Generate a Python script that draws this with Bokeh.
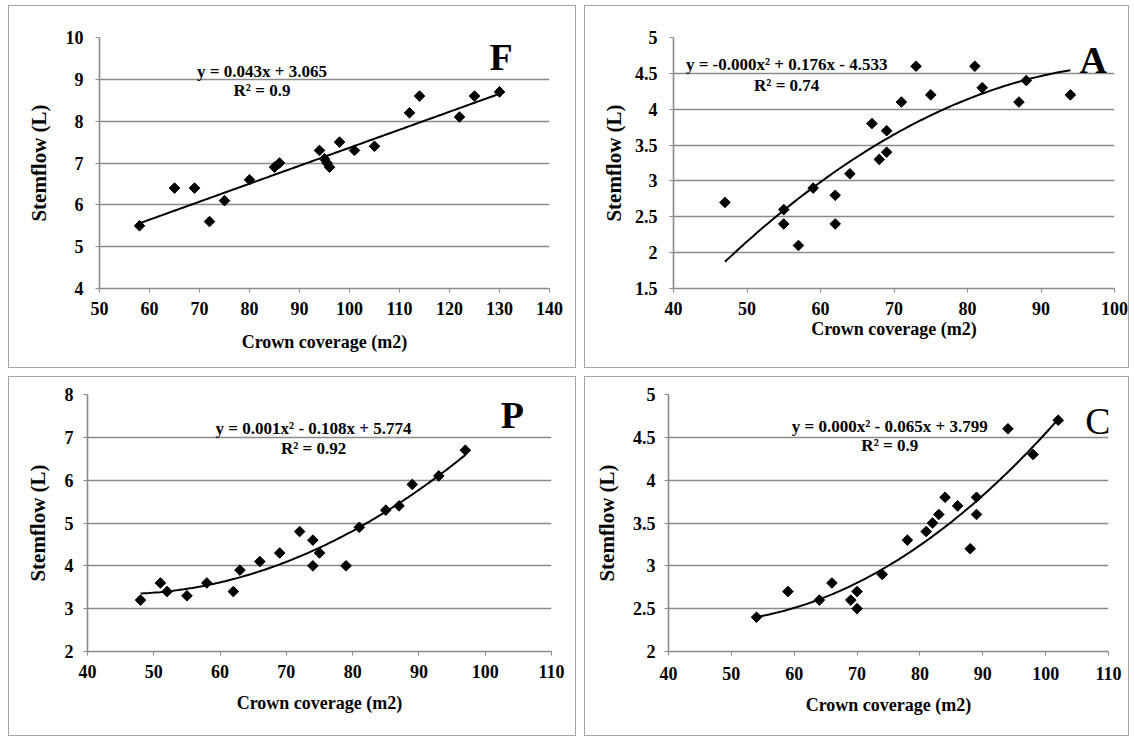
import numpy as np
from bokeh.plotting import figure
from bokeh.models import Label, NumeralTickFormatter, FixedTicker, Range1d
from bokeh.layouts import row, column
from bokeh.embed import file_html
from bokeh.resources import INLINE

# ---------------- data ----------------
f_x = [58, 65, 69, 72, 75, 80, 85, 86, 94, 95, 95.5, 96, 98, 101, 105, 112, 114, 122, 125, 130]
f_y = [5.5, 6.4, 6.4, 5.6, 6.1, 6.6, 6.9, 7.0, 7.3, 7.1, 7.0, 6.9, 7.5, 7.3, 7.4, 8.2, 8.6, 8.1, 8.6, 8.7]

a_x = [47, 55, 55, 57, 59, 62, 62, 64, 67, 68, 69, 69, 71, 73, 75, 81, 82, 87, 88, 94]
a_y = [2.7, 2.6, 2.4, 2.1, 2.9, 2.8, 2.4, 3.1, 3.8, 3.3, 3.7, 3.4, 4.1, 4.6, 4.2, 4.6, 4.3, 4.1, 4.4, 4.2]

p_x = [48, 51, 52, 55, 58, 62, 63, 66, 69, 72, 74, 74, 75, 79, 81, 85, 87, 89, 93, 97]
p_y = [3.2, 3.6, 3.4, 3.3, 3.6, 3.4, 3.9, 4.1, 4.3, 4.8, 4.6, 4.0, 4.3, 4.0, 4.9, 5.3, 5.4, 5.9, 6.1, 6.7]

c_x = [54, 59, 64, 66, 69, 70, 70, 74, 78, 81, 82, 83, 84, 86, 88, 89, 89, 94, 98, 102]
c_y = [2.4, 2.7, 2.6, 2.8, 2.6, 2.7, 2.5, 2.9, 3.3, 3.4, 3.5, 3.6, 3.8, 3.7, 3.2, 3.6, 3.8, 4.6, 4.3, 4.7]

# trend-line coefficients as printed/read on the chart (highest power first)
f_coef = [0.043, 3.065]
a_coef = [-0.000845, 0.176, -4.533]
p_coef = [0.0012, -0.108, 5.774]
c_coef = [0.000725, -0.065, 3.799]

f_eq = ["y = 0.043x + 3.065", "R² = 0.9"]
a_eq = ["y = -0.000x² + 0.176x - 4.533", "R² = 0.74"]
p_eq = ["y = 0.001x² - 0.108x + 5.774", "R² = 0.92"]
c_eq = ["y = 0.000x² - 0.065x + 3.799", "R² = 0.9"]

f_xticks = [50, 60, 70, 80, 90, 100, 110, 120, 130, 140]
f_yticks = [4, 5, 6, 7, 8, 9, 10]
a_xticks = [40, 50, 60, 70, 80, 90, 100]
a_yticks = [1.5, 2, 2.5, 3, 3.5, 4, 4.5, 5]
p_xticks = [40, 50, 60, 70, 80, 90, 100, 110]
p_yticks = [2, 3, 4, 5, 6, 7, 8]
c_xticks = [40, 50, 60, 70, 80, 90, 100, 110]
c_yticks = [2, 2.5, 3, 3.5, 4, 4.5, 5]

x_title = "Crown coverage (m2)"
y_title = "Stemflow (L)"

SERIF = "Liberation Serif"
GRID = "#8a8a8a"


def panel(xs, ys, coef, eq, xticks, yticks, letter, cfg):
    p = figure(width=cfg["w"], height=cfg["h"], output_backend="svg", toolbar_location=None,
               x_range=Range1d(xticks[0], xticks[-1]), y_range=Range1d(yticks[0], yticks[-1]),
               min_border_left=cfg["bl"], min_border_right=cfg["br"],
               min_border_top=cfg["bt"], min_border_bottom=cfg["bb"],
               background_fill_color="white", border_fill_color="white",
               styles={"border": "1px solid #a4a4a4"})
    p.outline_line_color = None
    p.xgrid.grid_line_color = None
    p.ygrid.grid_line_color = GRID
    p.ygrid.grid_line_width = 1.6
    p.xaxis.ticker = FixedTicker(ticks=xticks)
    p.yaxis.ticker = FixedTicker(ticks=yticks)
    p.yaxis.formatter = NumeralTickFormatter(format="0.[0]")
    for ax in (p.xaxis[0], p.yaxis[0]):
        ax.axis_line_color = GRID
        ax.axis_line_width = 1.6
        ax.major_tick_line_color = GRID
        ax.major_tick_in = 0
        ax.major_tick_out = 4
        ax.minor_tick_line_color = None
        ax.major_label_text_font = SERIF
        ax.major_label_text_font_style = "bold"
        ax.major_label_text_font_size = "18px"
        ax.major_label_text_color = "black"
        ax.axis_label_text_font = SERIF
        ax.axis_label_text_font_style = "bold"
        ax.axis_label_text_color = "black"
    p.xaxis.axis_label = x_title
    p.yaxis.axis_label = y_title
    p.xaxis.axis_label_text_font_size = "18px"
    p.yaxis.axis_label_text_font_size = "21px"
    p.xaxis.major_label_standoff = cfg["xls"]
    p.yaxis.major_label_standoff = cfg["yls"]
    p.xaxis.axis_label_standoff = cfg["xas"]
    p.yaxis.axis_label_standoff = cfg["yas"]

    # trend line
    tx = np.linspace(min(xs), max(xs), 120)
    ty = np.polyval(coef, tx)
    p.line(tx, ty, line_color="black", line_width=2)
    # points
    p.scatter(xs, ys, marker="square", angle=np.pi / 4, size=7.5,
              fill_color="black", line_color="black")

    ex, ey1, ey2 = cfg["eq"]
    for txt, yy in ((eq[0], ey1), (eq[1], ey2)):
        p.add_layout(Label(x=ex, y=yy, text=txt, text_align="center", text_baseline="middle",
                           text_font=SERIF, text_font_style="bold", text_font_size="17px",
                           text_color="black"))
    lx, ly, lbold = cfg["letter"]
    p.add_layout(Label(x=lx, y=ly, text=letter, text_align="center", text_baseline="middle",
                       text_font=SERIF, text_font_style="bold" if lbold else "normal",
                       text_font_size="38px", text_color="black"))
    return p


pF = panel(f_x, f_y, f_coef, f_eq, f_xticks, f_yticks, "F",
           dict(w=568, h=363, bl=90, br=28, bt=17, bb=81, xls=9, yls=12, xas=14, yas=12,
                eq=(82.5, 9.19, 8.73), letter=(130.3, 9.53, True)))
pA = panel(a_x, a_y, a_coef, a_eq, a_xticks, a_yticks, "A",
           dict(w=545, h=363, bl=88, br=16, bt=31, bb=67, xls=9, yls=12, xas=1, yas=6,
                eq=(55.4, 4.62, 4.33), letter=(97.1, 4.68, True)))
pP = panel(p_x, p_y, p_coef, p_eq, p_xticks, p_yticks, "P",
           dict(w=568, h=360, bl=78, br=26, bt=16, bb=77, xls=9, yls=10, xas=12, yas=12,
                eq=(74.1, 7.2, 6.73), letter=(104.1, 7.51, True)))
pC = panel(c_x, c_y, c_coef, c_eq, c_xticks, c_yticks, "C",
           dict(w=545, h=360, bl=83, br=22, bt=17, bb=86, xls=11, yls=9, xas=12, yas=11,
                eq=(75.2, 4.63, 4.40), letter=(108.3, 4.69, False)))

layout = column(row(pF, pA, spacing=8), row(pP, pC, spacing=8), spacing=8)
layout.margin = (5, 0, 0, 8)

open("out.html", "w").write(file_html(layout, INLINE))
